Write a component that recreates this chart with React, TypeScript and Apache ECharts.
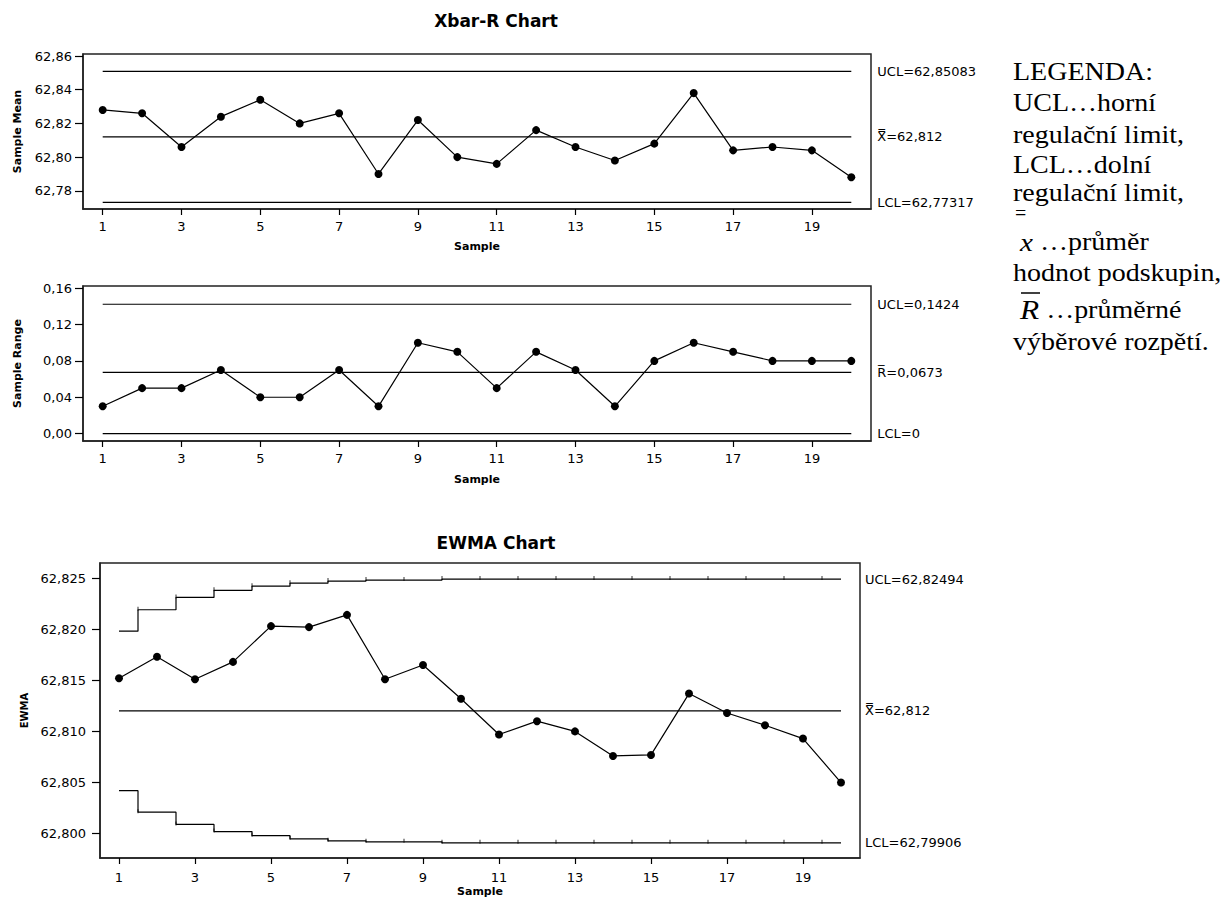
import React, { useEffect, useRef } from 'react';
import * as echarts from 'echarts';

// ---------- data ----------
const samples = [1, 2, 3, 4, 5, 6, 7, 8, 9, 10, 11, 12, 13, 14, 15, 16, 17, 18, 19, 20];
const sampleTicks = [1, 3, 5, 7, 9, 11, 13, 15, 17, 19];

const xbarMeans = [62.828, 62.826, 62.806, 62.824, 62.834, 62.820, 62.826, 62.790, 62.822, 62.800,
  62.796, 62.816, 62.806, 62.798, 62.808, 62.838, 62.804, 62.806, 62.804, 62.788];
const xbarTicks = [62.78, 62.80, 62.82, 62.84, 62.86];
const xbarUCL = 62.85083;
const xbarCL = 62.812;
const xbarLCL = 62.77317;

const ranges = [0.03, 0.05, 0.05, 0.07, 0.04, 0.04, 0.07, 0.03, 0.10, 0.09,
  0.05, 0.09, 0.07, 0.03, 0.08, 0.10, 0.09, 0.08, 0.08, 0.08];
const rangeTicks = [0, 0.04, 0.08, 0.12, 0.16];
const rUCL = 0.1424;
const rCL = 0.0673;
const rLCL = 0;

const ewma = [62.8152, 62.8173, 62.8151, 62.8168, 62.8203, 62.8202, 62.8214, 62.8151, 62.8165, 62.8132,
  62.8097, 62.8110, 62.8100, 62.8076, 62.8077, 62.8137, 62.8118, 62.8106, 62.8093, 62.8050];
const ewmaUCLSteps = [62.8198, 62.8219, 62.8231, 62.8238, 62.8242, 62.8245, 62.8247, 62.8248, 62.8248, 62.8249,
  62.8249, 62.8249, 62.8249, 62.8249, 62.8249, 62.8249, 62.8249, 62.8249, 62.8249, 62.8249];
const ewmaLCLSteps = [62.8042, 62.8021, 62.8009, 62.8002, 62.7998, 62.7995, 62.7993, 62.7992, 62.7992, 62.7991,
  62.7991, 62.7991, 62.7991, 62.7991, 62.7991, 62.7991, 62.7991, 62.7991, 62.7991, 62.7991];
const ewmaTicks = [62.800, 62.805, 62.810, 62.815, 62.820, 62.825];
const ewmaUCL = 62.82494;
const ewmaCL = 62.812;
const ewmaLCL = 62.79906;

const legendLines = [
  'LEGENDA:',
  'UCL…horní',
  'regulační limit,',
  'LCL…dolní',
  'regulační limit,',
];

// ---------- helpers ----------
const FONT = "'DejaVu Sans', sans-serif";
const SERIF = "'Liberation Serif', 'Times New Roman', serif";
const comma = (v: number, d: number) => v.toFixed(d).replace('.', ',');
const X2 = 'X\u033F';
const R1 = 'R\u0305';

function xAxis(gridIndex: number, nameGap: number, margin: number) {
  return {
    type: 'value', gridIndex, min: 0.5, max: 20.5,
    name: 'Sample', nameLocation: 'middle', nameGap,
    nameTextStyle: { fontFamily: FONT, fontWeight: 'bold', fontSize: 11, color: '#000' },
    axisLine: { show: true, onZero: false, lineStyle: { color: '#222', width: 1.5 } },
    axisTick: { show: true, length: 6, customValues: sampleTicks, lineStyle: { color: '#000', width: 1.2 } },
    axisLabel: { show: true, customValues: sampleTicks, margin, fontFamily: FONT, fontSize: 13, color: '#000',
      formatter: (v: number) => String(v) },
    splitLine: { show: false },
  };
}

function yAxis(gridIndex: number, name: string, nameGap: number, nameSize: number, min: number, max: number,
  ticks: number[], dec: number, margin: number) {
  return {
    type: 'value', gridIndex, min, max,
    name, nameLocation: 'middle', nameGap,
    nameTextStyle: { fontFamily: FONT, fontWeight: 'bold', fontSize: nameSize, color: '#000' },
    axisLine: { show: true, onZero: false, lineStyle: { color: '#222', width: 1.5 } },
    axisTick: { show: true, length: 8, customValues: ticks, lineStyle: { color: '#000', width: 1.2 } },
    axisLabel: { show: true, customValues: ticks, margin, fontFamily: FONT, fontSize: 13, color: '#000',
      formatter: (v: number) => comma(v, dec) },
    splitLine: { show: false },
  };
}

const lineStyle = { color: '#000', width: 1.2 };

function limitLine(ax: number, value: number, label: string, distance: number) {
  return {
    type: 'line', xAxisIndex: ax, yAxisIndex: ax, symbol: 'none', silent: true,
    data: [[samples[0], value], [samples[samples.length - 1], value]],
    lineStyle,
    endLabel: { show: true, formatter: label, distance, fontFamily: FONT, fontSize: 13, color: '#000' },
  };
}

function dataLine(ax: number, values: number[]) {
  return {
    type: 'line', xAxisIndex: ax, yAxisIndex: ax,
    data: samples.map((s, i) => [s, values[i]]),
    symbol: 'circle', symbolSize: 8, showSymbol: true,
    itemStyle: { color: '#000' }, lineStyle,
  };
}

function stepLine(values: number[], label: string) {
  return {
    type: 'line', xAxisIndex: 2, yAxisIndex: 2, symbol: 'none', step: 'middle',
    data: samples.map((s, i) => [s, values[i]]),
    lineStyle,
    endLabel: { show: true, formatter: label, distance: 24, fontFamily: FONT, fontSize: 13, color: '#000' },
  };
}

function stepTicks(values: number[]) {
  return {
    type: 'scatter', xAxisIndex: 2, yAxisIndex: 2, symbol: 'rect', symbolSize: [1, 4], symbolOffset: [0, -1],
    itemStyle: { color: '#000' }, silent: true,
    data: samples.slice(1).map((s, i) => [s - 0.5, values[i + 1]]),
  };
}

export default function App() {
  const ref = useRef<HTMLDivElement>(null);
  useEffect(() => {
    if (!ref.current) return;
    const chart = echarts.init(ref.current, null, { renderer: 'svg' });
    const legendGraphics: any[] = legendLines.map((t, i) => ({
      type: 'text', x: 1013, y: [72, 103, 135, 165, 193][i], scaleX: 1.12,
      style: { text: t, fontFamily: SERIF, fontSize: 25, fill: '#000', align: 'left', verticalAlign: 'middle' },
    }));
    legendGraphics.push(
      { type: 'text', x: 1015, y: 213, scaleX: 1.0,
        style: { text: '=', fontFamily: SERIF, fontSize: 20, fill: '#000', align: 'left', verticalAlign: 'middle' } },
      { type: 'text', x: 1013, y: 242, scaleX: 1.12,
        style: { text: ' {i|x} …průměr', fontFamily: SERIF, fontSize: 25, fill: '#000', align: 'left', verticalAlign: 'middle',
          rich: { i: { fontFamily: SERIF, fontStyle: 'italic', fontSize: 26, fill: '#000' } } } },
      { type: 'text', x: 1013, y: 273, scaleX: 1.12,
        style: { text: 'hodnot podskupin,', fontFamily: SERIF, fontSize: 25, fill: '#000', align: 'left', verticalAlign: 'middle' } },
      { type: 'line', shape: { x1: 1021, y1: 293, x2: 1040, y2: 293 }, style: { stroke: '#000', lineWidth: 1.5 } },
      { type: 'text', x: 1013, y: 310, scaleX: 1.12,
        style: { text: ' {i|R} …průměrné', fontFamily: SERIF, fontSize: 25, fill: '#000', align: 'left', verticalAlign: 'middle',
          rich: { i: { fontFamily: SERIF, fontStyle: 'italic', fontSize: 28, fill: '#000' } } } },
      { type: 'text', x: 1013, y: 342, scaleX: 1.12,
        style: { text: 'výběrové rozpětí.', fontFamily: SERIF, fontSize: 25, fill: '#000', align: 'left', verticalAlign: 'middle' } },
    );

    chart.setOption({
      animation: false,
      backgroundColor: '#fff',
      title: [
        { text: 'Xbar-R Chart', left: 496, top: 12, textAlign: 'center', padding: 0,
          textStyle: { fontFamily: FONT, fontWeight: 'bold', fontSize: 17, color: '#000' } },
        { text: 'EWMA Chart', left: 496, top: 534, textAlign: 'center', padding: 0,
          textStyle: { fontFamily: FONT, fontWeight: 'bold', fontSize: 17, color: '#000' } },
      ],
      grid: [
        { left: 83, top: 54, width: 788, height: 155, show: true, borderColor: '#222', borderWidth: 1.5 },
        { left: 83, top: 286, width: 788, height: 155, show: true, borderColor: '#222', borderWidth: 1.5 },
        { left: 100, top: 563, width: 760, height: 295, show: true, borderColor: '#222', borderWidth: 1.5 },
      ],
      xAxis: [xAxis(0, 32, 11), xAxis(1, 33, 11), xAxis(2, 28, 13)],
      yAxis: [
        yAxis(0, 'Sample Mean', 60, 11, 62.7692, 62.8612, xbarTicks, 2, 11),
        yAxis(1, 'Sample Range', 60, 11, -0.0082, 0.1625, rangeTicks, 2, 11),
        yAxis(2, 'EWMA', 68, 10, 62.79762, 62.82647, ewmaTicks, 3, 14),
      ],
      series: [
        limitLine(0, xbarUCL, 'UCL=' + comma(xbarUCL, 5), 26),
        limitLine(0, xbarCL, X2 + '=' + comma(xbarCL, 3), 26),
        limitLine(0, xbarLCL, 'LCL=' + comma(xbarLCL, 5), 26),
        dataLine(0, xbarMeans),
        limitLine(1, rUCL, 'UCL=' + comma(rUCL, 4), 26),
        limitLine(1, rCL, R1 + '=' + comma(rCL, 4), 26),
        limitLine(1, rLCL, 'LCL=' + String(rLCL), 26),
        dataLine(1, ranges),
        stepLine(ewmaUCLSteps, 'UCL=' + comma(ewmaUCL, 5)),
        stepTicks(ewmaUCLSteps),
        stepLine(ewmaLCLSteps, 'LCL=' + comma(ewmaLCL, 5)),
        stepTicks(ewmaLCLSteps),
        { ...limitLine(2, ewmaCL, X2 + '=' + comma(ewmaCL, 3), 24) },
        dataLine(2, ewma),
      ],
      graphic: legendGraphics,
    });
    return () => chart.dispose();
  }, []);
  return <div ref={ref} style={{ position: 'fixed', left: 0, top: 0, width: 1223, height: 899 }} />;
}
